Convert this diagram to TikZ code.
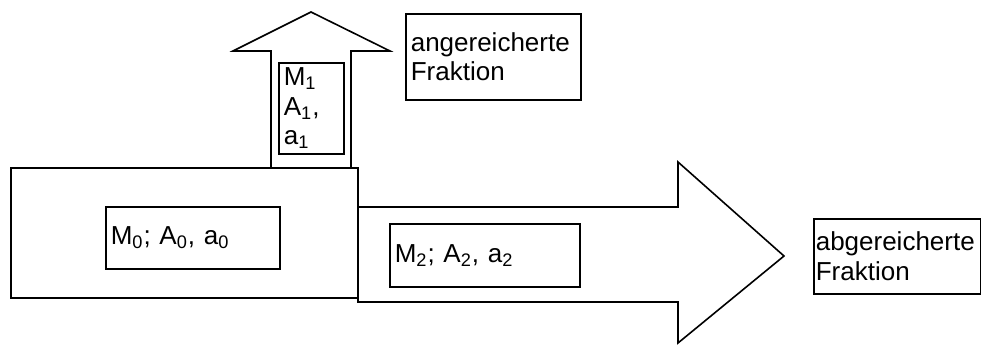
\documentclass[tikz,border=0pt]{standalone}
\usepackage{fontspec}
\setmainfont{Liberation Sans}
\usetikzlibrary{positioning}

\begin{document}
\begin{tikzpicture}[x=0.5pt, y=-0.5pt, line width=0.8pt,
        textbox/.style={draw, anchor=north west, align=left, inner xsep=2.5pt, inner ysep=0pt,
            font=\fontsize{13}{14.8}\selectfont}]
        \useasboundingbox (0,0) rectangle (981,345);
        % Zulauf
        \draw (11,168) rectangle (358,298);
        % Pfeil nach oben
        \draw (271,168) -- (271,51) -- (233,51) -- (311,12) -- (390,51) -- (351,51) -- (351,168);
        % Pfeil nach rechts
        \draw (358,207) -- (678,207) -- (678,162) -- (784,256) -- (678,343) -- (678,302) -- (358,302) -- cycle;
        \node[textbox, minimum width=87pt, minimum height=31pt, text width=82pt] (m0) at (105,206)
            {M\textsubscript{0}; A\textsubscript{0}, a\textsubscript{0}};
        \node[textbox, minimum width=32.5pt, minimum height=45.5pt, text width=27.5pt] (m1) at (278,62)
            {M\textsubscript{1}\\A\textsubscript{1},\\a\textsubscript{1}};
        \node[textbox, minimum width=95pt, minimum height=31.5pt, text width=90pt] (m2) at (389,223)
            {M\textsubscript{2}; A\textsubscript{2}, a\textsubscript{2}};
        \node[textbox, minimum width=87.5pt, minimum height=43pt, text width=82.5pt] (ang) at (405,13)
            {angereicherte\\Fraktion};
        \node[textbox, inner xsep=1pt, minimum width=83.5pt, minimum height=37.5pt, text width=81.5pt] (abg) at (813,218)
            {abgereicherte\\Fraktion};
    \end{tikzpicture}
\end{document}
